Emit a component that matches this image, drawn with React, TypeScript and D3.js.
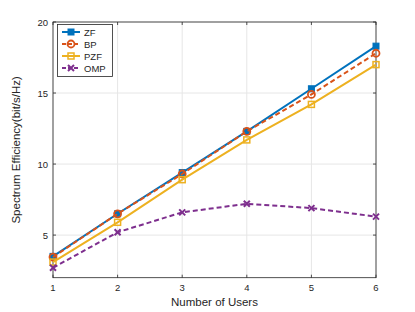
import { useRef, useEffect } from 'react';
import * as d3 from 'd3';

const users = [1, 2, 3, 4, 5, 6];
const zf = [3.5, 6.5, 9.4, 12.3, 15.3, 18.3];
const bp = [3.45, 6.5, 9.3, 12.3, 14.9, 17.8];
const pzf = [3.1, 5.9, 8.9, 11.7, 14.2, 17.0];
const omp = [2.7, 5.2, 6.6, 7.2, 6.9, 6.3];
const xTicks = [1, 2, 3, 4, 5, 6];
const yTicks = [5, 10, 15, 20];

const series = [
    { name: 'ZF', values: zf, color: '#0072BD', dash: '', marker: 'square' },
    { name: 'BP', values: bp, color: '#D95319', dash: '5,3', marker: 'circle' },
    { name: 'PZF', values: pzf, color: '#EDB120', dash: '', marker: 'squareOpen' },
    { name: 'OMP', values: omp, color: '#7E2F8E', dash: '5,3', marker: 'cross' },
];

export default function App() {
    const svgRef = useRef<SVGSVGElement>(null);

    useEffect(() => {
        if (!svgRef.current) return;
        const svg = d3.select(svgRef.current);
        svg.selectAll('*').remove();

        const W = 415, H = 312;
        const left = 53, right = 376, top = 22, bottom = 277.7;
        const font = 'Liberation Sans, Arial, sans-serif';

        svg.attr('width', W).attr('height', H);
        svg.append('rect').attr('width', W).attr('height', H).attr('fill', '#fff');

        const x = d3.scaleLinear().domain([1, 6]).range([left, right]);
        const y = d3.scaleLinear().domain([2, 20]).range([bottom, top]);

        // grid
        const grid = svg.append('g').attr('stroke', '#e6e6e6').attr('stroke-width', 1);
        xTicks.forEach(t => grid.append('line')
            .attr('x1', x(t)).attr('x2', x(t)).attr('y1', top).attr('y2', bottom));
        yTicks.forEach(t => grid.append('line')
            .attr('x1', left).attr('x2', right).attr('y1', y(t)).attr('y2', y(t)));

        // box
        svg.append('rect').attr('x', left).attr('y', top)
            .attr('width', right - left).attr('height', bottom - top)
            .attr('fill', 'none').attr('stroke', '#262626').attr('stroke-width', 0.8);

        // ticks (inside, both sides)
        const tk = svg.append('g').attr('stroke', '#262626').attr('stroke-width', 0.8);
        xTicks.forEach(t => {
            tk.append('line').attr('x1', x(t)).attr('x2', x(t)).attr('y1', bottom).attr('y2', bottom - 3);
            tk.append('line').attr('x1', x(t)).attr('x2', x(t)).attr('y1', top).attr('y2', top + 3);
        });
        yTicks.forEach(t => {
            tk.append('line').attr('x1', left).attr('x2', left + 3).attr('y1', y(t)).attr('y2', y(t));
            tk.append('line').attr('x1', right).attr('x2', right - 3).attr('y1', y(t)).attr('y2', y(t));
        });

        // tick labels
        xTicks.forEach(t => svg.append('text')
            .attr('x', x(t)).attr('y', bottom + 13)
            .attr('text-anchor', 'middle').attr('font-size', 9.5).attr('font-family', font)
            .attr('fill', '#262626').text(t));
        yTicks.forEach(t => svg.append('text')
            .attr('x', left - 5).attr('y', y(t) + 3.5)
            .attr('text-anchor', 'end').attr('font-size', 9.5).attr('font-family', font)
            .attr('fill', '#262626').text(t));

        // axis labels
        svg.append('text')
            .attr('x', (left + right) / 2).attr('y', 306)
            .attr('text-anchor', 'middle').attr('font-size', 11.5).attr('font-family', font)
            .attr('fill', '#262626').text('Number of Users');
        svg.append('text')
            .attr('transform', `translate(20,${(top + bottom) / 2}) rotate(-90)`)
            .attr('text-anchor', 'middle').attr('font-size', 11.5).attr('font-family', font)
            .attr('fill', '#262626').text('Spectrum Efficiency(bit/s/Hz)');

        const drawMarker = (g: any, kind: string, cx: number, cy: number, color: string) => {
            if (kind === 'square') {
                g.append('rect').attr('x', cx - 3).attr('y', cy - 3).attr('width', 6).attr('height', 6)
                    .attr('fill', color).attr('stroke', color);
            } else if (kind === 'squareOpen') {
                g.append('rect').attr('x', cx - 3).attr('y', cy - 3).attr('width', 6).attr('height', 6)
                    .attr('fill', 'none').attr('stroke', color).attr('stroke-width', 1.5);
            } else if (kind === 'circle') {
                g.append('circle').attr('cx', cx).attr('cy', cy).attr('r', 3.5)
                    .attr('fill', 'none').attr('stroke', color).attr('stroke-width', 1.8);
            } else {
                const s = 3;
                g.append('path')
                    .attr('d', `M${cx - s},${cy - s}L${cx + s},${cy + s}M${cx - s},${cy + s}L${cx + s},${cy - s}`)
                    .attr('stroke', color).attr('stroke-width', 2);
            }
        };

        const line = d3.line<number>().x((_, i) => x(users[i])).y(d => y(d));

        series.forEach(s => {
            const g = svg.append('g');
            g.append('path').datum(s.values).attr('d', line)
                .attr('fill', 'none').attr('stroke', s.color).attr('stroke-width', 2)
                .attr('stroke-dasharray', s.dash || null);
            s.values.forEach((v, i) => drawMarker(g, s.marker, x(users[i]), y(v), s.color));
        });

        // legend
        const lg = svg.append('g');
        lg.append('rect').attr('x', 57.5).attr('y', 24.5).attr('width', 55).attr('height', 52)
            .attr('fill', '#fff').attr('stroke', '#262626').attr('stroke-width', 0.8);
        series.forEach((s, i) => {
            const ly = 32 + i * 12;
            lg.append('line').attr('x1', 62).attr('x2', 80).attr('y1', ly).attr('y2', ly)
                .attr('stroke', s.color).attr('stroke-width', 2)
                .attr('stroke-dasharray', s.dash ? '4,2' : null);
            drawMarker(lg, s.marker, 71, ly, s.color);
            lg.append('text').attr('x', 84).attr('y', ly + 3.5)
                .attr('font-size', 9.5).attr('font-family', font).attr('fill', '#262626').text(s.name);
        });
    }, []);

    return (
        <div style={{ position: 'absolute', left: 0, top: 0 }}>
            <svg ref={svgRef} style={{ display: 'block' }} />
        </div>
    );
}
